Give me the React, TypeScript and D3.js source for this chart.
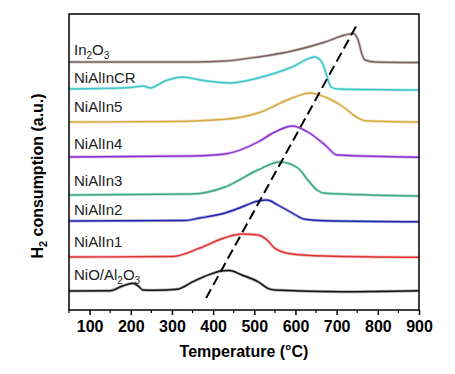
import React, { useEffect, useRef } from 'react';
import * as d3 from 'd3';

// H2-TPR profiles, [temperature, signal above own baseline]
const names = ['In₂O₃', 'NiAlInCR', 'NiAlIn5', 'NiAlIn4', 'NiAlIn3', 'NiAlIn2', 'NiAlIn1', 'NiO/Al₂O₃'];
const colors = ['#7d6262', '#3cc6c8', '#d4ab44', '#8a2fd0', '#3aa982', '#2424ae', '#e03434', '#151515'];
const offsets = [248, 221, 188, 153, 115, 89, 53, 19];

const in2o3 = [[50, 0], [350, 0], [429, 1], [509, 5], [592, 11], [672, 20], [720, 27], [740, 28.5], [752, 22], [762, 7], [769, 2], [793, 0], [900, -0.5]];
const niAlInCR = [[50, 0], [125, 0.5], [200, 1.5], [230, 3], [247, 1], [283, 8], [327, 12], [368, 9], [441, 6], [509, 11], [592, 22], [647, 32], [664, 27], [677, 12], [686, 2], [703, 0], [900, -1]];
const niAlIn5 = [[50, 0], [300, 0.5], [429, 2.7], [509, 9], [592, 24], [635, 29], [672, 25], [713, 16], [752, 4], [769, 1.3], [900, 0]];
const niAlIn4 = [[50, 0], [350, 1], [429, 3], [509, 15], [550, 25], [592, 31], [630, 25], [672, 12], [701, 2], [900, -0.3]];
const niAlIn3 = [[50, 0], [350, 1], [429, 8], [509, 25], [562, 33], [606, 27], [630, 15], [652, 5], [672, 1.7], [900, -1]];
const niAlIn2 = [[50, 0], [330, 0.5], [368, 3], [429, 8], [470, 14], [509, 20], [531, 21], [557, 16], [592, 8], [623, 1.7], [672, 0.3], [900, -0.7]];
const niAlIn1 = [[50, 0], [300, 0.5], [368, 9], [430, 19.5], [470, 23], [509, 22], [531, 17], [550, 8.7], [592, 3], [672, 1], [900, -0.3]];
const nio = [[50, 0], [150, 0.3], [180, 5], [205, 7.7], [220, 4.3], [229, 1], [260, 0.7], [312, 1.7], [351, 9.3], [392, 16.7], [424, 20.3], [440, 20.5], [470, 16], [509, 9.3], [533, 2.7], [550, 1], [713, -0.7], [900, 0.3]];
const series = [in2o3, niAlInCR, niAlIn5, niAlIn4, niAlIn3, niAlIn2, niAlIn1, nio];

// label baselines (a.u.) for each curve name
const labelY = [255, 227, 198, 161, 124, 95, 63, 30];

// dashed guide through the peak maxima
const guide = [[383, 12], [749, 285]];

const xTicks = [100, 200, 300, 400, 500, 600, 700, 800, 900];
const xMinor = [50, 150, 250, 350, 450, 550, 650, 750, 850];

const App = () => {
  const ref = useRef(null);
  const width = 455;
  const height = 374;
  const margin = { top: 14, right: 36, bottom: 64, left: 69 };

  useEffect(() => {
    const svg = d3.select(ref.current);
    svg.selectAll('*').remove();
    const w = width - margin.left - margin.right;
    const h = height - margin.top - margin.bottom;

    const x = d3.scaleLinear().domain([50, 900]).range([0, w]);
    const y = d3.scaleLinear().domain([0, 296]).range([h, 0]);

    const g = svg.append('g')
      .attr('transform', 'translate(' + margin.left + ',' + margin.top + ')');

    const line = d3.line()
      .x(d => x(d[0]))
      .y(d => y(d[1]))
      .curve(d3.curveMonotoneX);

    series.forEach((s, i) => {
      const pts = s.map(p => [p[0], p[1] + offsets[i]]);
      g.append('path')
        .attr('d', line(pts))
        .attr('fill', 'none')
        .attr('stroke', colors[i])
        .attr('stroke-opacity', 0.35)
        .attr('stroke-width', 3);
      g.append('path')
        .attr('d', line(pts))
        .attr('fill', 'none')
        .attr('stroke', colors[i])
        .attr('stroke-width', 1.4);
    });

    g.append('path')
      .attr('d', d3.line().x(d => x(d[0])).y(d => y(d[1]))(guide))
      .attr('fill', 'none')
      .attr('stroke', '#000')
      .attr('stroke-width', 2)
      .attr('stroke-dasharray', '10,5');

    // curve labels, with subscripts
    names.forEach((n, i) => {
      const t = g.append('text')
        .attr('x', 5)
        .attr('y', y(labelY[i]))
        .attr('font-family', 'Liberation Sans, Arial, sans-serif')
        .attr('font-size', 15)
        .attr('fill', '#222');
      const parts = n.split(/([₂₃])/).filter(p => p);
      let shift = 0;
      parts.forEach(p => {
        if (p === '₂' || p === '₃') {
          t.append('tspan').attr('font-size', 10).attr('dy', 4 - shift).text(p === '₂' ? '2' : '3');
          shift = 4;
        } else {
          t.append('tspan').attr('dy', -shift).text(p);
          shift = 0;
        }
      });
    });

    // frame
    g.append('rect')
      .attr('width', w)
      .attr('height', h)
      .attr('fill', 'none')
      .attr('stroke', '#000')
      .attr('stroke-width', 1.5);

    const xAxis = g.append('g')
      .attr('transform', 'translate(0,' + h + ')')
      .call(d3.axisBottom(x).tickValues(xTicks).tickSize(5).tickPadding(6));
    xAxis.select('.domain').remove();
    xAxis.selectAll('line').attr('stroke-width', 1.5);
    xAxis.selectAll('text')
      .attr('font-family', 'Liberation Sans, Arial, sans-serif')
      .attr('font-size', 16)
      .attr('font-weight', 'bold')
      .attr('fill', '#000');

    g.append('g')
      .attr('transform', 'translate(0,' + h + ')')
      .selectAll('line')
      .data(xMinor)
      .enter()
      .append('line')
      .attr('x1', d => x(d))
      .attr('x2', d => x(d))
      .attr('y1', 0)
      .attr('y2', 3)
      .attr('stroke', '#000')
      .attr('stroke-width', 1.2);

    g.append('text')
      .attr('x', w / 2)
      .attr('y', h + 47)
      .attr('text-anchor', 'middle')
      .attr('font-family', 'Liberation Sans, Arial, sans-serif')
      .attr('font-size', 16)
      .attr('font-weight', 'bold')
      .text('Temperature (°C)');

    const yl = g.append('text')
      .attr('transform', 'translate(-26,' + (h / 2 + 14) + ') rotate(-90)')
      .attr('text-anchor', 'middle')
      .attr('font-family', 'Liberation Sans, Arial, sans-serif')
      .attr('font-size', 16)
      .attr('font-weight', 'bold');
    yl.append('tspan').text('H');
    yl.append('tspan').attr('font-size', 11).attr('dy', 4).text('2');
    yl.append('tspan').attr('dy', -4).text(' consumption (a.u.)');
  });

  return (
    <svg width={width} height={height} style={{ position: 'absolute', left: 0, top: 0 }} ref={ref} />
  );
};

export default App;
